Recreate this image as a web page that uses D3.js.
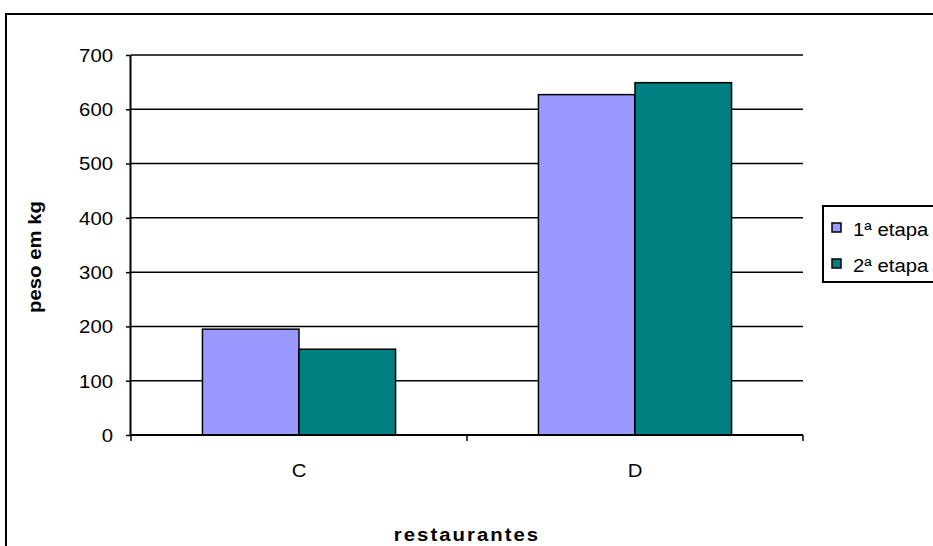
<!DOCTYPE html>
<html>
<head>
<meta charset="utf-8">
<script src="https://cdn.jsdelivr.net/npm/d3@7"></script>
<style>
  html, body { margin: 0; padding: 0; background: #fff; }
  svg { display: block; font-family: "Liberation Sans", Arial, sans-serif; }
</style>
</head>
<body>
<svg id="chart" width="933" height="546"></svg>
<script>
// chart data
const categories = ['C', 'D'];
const series = ['1ª etapa', '2ª etapa'];
const etapa1 = [195, 627];
const etapa2 = [158, 649];
const yTicks = [0, 100, 200, 300, 400, 500, 600, 700];
const colors = ['#9999FF', '#008080'];

const svg = d3.select('#chart');
const m = { t: 55, l: 131, r: 803, b: 435 };
const SX = 1.13; // the original text is drawn a bit wider than Arial

// text helper: places a horizontally stretched label at (x, y)
function label(parent, x, y, str, anchor = 'start', extra = '') {
  return parent.append('text')
    .attr('transform', `translate(${x},${y}) ${extra} scale(${SX},1)`)
    .attr('text-anchor', anchor).attr('font-size', 18).attr('fill', '#000')
    .text(str);
}

// outer chart frame
svg.append('rect')
  .attr('x', 6).attr('y', 14).attr('width', 940).attr('height', 550)
  .attr('fill', '#fff').attr('stroke', '#000').attr('stroke-width', 2);

const x0 = d3.scaleBand().domain(categories).range([m.l, m.r]).padding(0);
const x1 = d3.scaleBand().domain(series).range([0, x0.bandwidth()]).paddingInner(0).paddingOuter(0.74);
const y = d3.scaleLinear().domain([0, 700]).range([m.b, m.t]);

// gridlines
svg.append('g').selectAll('line').data(yTicks.filter(d => d > 0)).join('line')
  .attr('x1', m.l).attr('x2', m.r)
  .attr('y1', d => y(d)).attr('y2', d => y(d))
  .attr('stroke', '#000').attr('stroke-width', 1.5);

// bars
const rows = categories.map((c, i) => ({ cat: c, vals: [etapa1[i], etapa2[i]] }));
const groups = svg.append('g').selectAll('g').data(rows).join('g')
  .attr('transform', d => `translate(${x0(d.cat)},0)`);
groups.selectAll('rect').data(d => d.vals.map((v, j) => ({ s: series[j], v, j }))).join('rect')
  .attr('x', d => x1(d.s)).attr('width', x1.bandwidth())
  .attr('y', d => y(d.v)).attr('height', d => y(0) - y(d.v))
  .attr('fill', d => colors[d.j])
  .attr('stroke', '#000').attr('stroke-width', 1.5);

// y axis
const yAxis = svg.append('g').attr('transform', `translate(${m.l},0)`)
  .call(d3.axisLeft(y).tickValues(yTicks).tickSize(5).tickFormat(d3.format('d')));
yAxis.select('.domain').attr('stroke-width', 2).attr('d', `M-0.5,${m.t}V${m.b}`);
yAxis.selectAll('line').attr('stroke-width', 1.5);
yAxis.selectAll('text')
  .attr('x', null).attr('dy', '0.35em')
  .attr('transform', `translate(-18,0) scale(${SX},1)`)
  .attr('font-size', 18).attr('fill', '#000')
  .attr('font-family', '"Liberation Sans", Arial, sans-serif');

// x axis
const xEdges = [m.l, x0('D'), m.r];
svg.append('line').attr('x1', m.l).attr('x2', m.r).attr('y1', m.b).attr('y2', m.b)
  .attr('stroke', '#000').attr('stroke-width', 2);
svg.append('g').selectAll('line').data(xEdges).join('line')
  .attr('x1', d => d).attr('x2', d => d).attr('y1', m.b).attr('y2', m.b + 6)
  .attr('stroke', '#000').attr('stroke-width', 1.5);
const catG = svg.append('g');
categories.forEach(c => label(catG, x0(c) + x0.bandwidth() / 2, 477, c, 'middle'));

// axis titles
label(svg, 467, 541, 'restaurantes', 'middle')
  .attr('font-weight', 'bold').attr('letter-spacing', 1.8);
label(svg, 41, 257, 'peso em kg', 'middle', 'rotate(-90)')
  .attr('font-weight', 'bold');

// legend
const lg = svg.append('g');
lg.append('rect').attr('x', 823).attr('y', 206).attr('width', 130).attr('height', 76)
  .attr('fill', '#fff').attr('stroke', '#000').attr('stroke-width', 2);
series.forEach((s, i) => {
  const ly = 236 + i * 36;
  lg.append('rect').attr('x', 832).attr('y', ly - 13).attr('width', 9).attr('height', 9)
    .attr('fill', colors[i]).attr('stroke', '#000').attr('stroke-width', 1.5);
  label(lg, 853, ly, s);
});
</script>
</body>
</html>
